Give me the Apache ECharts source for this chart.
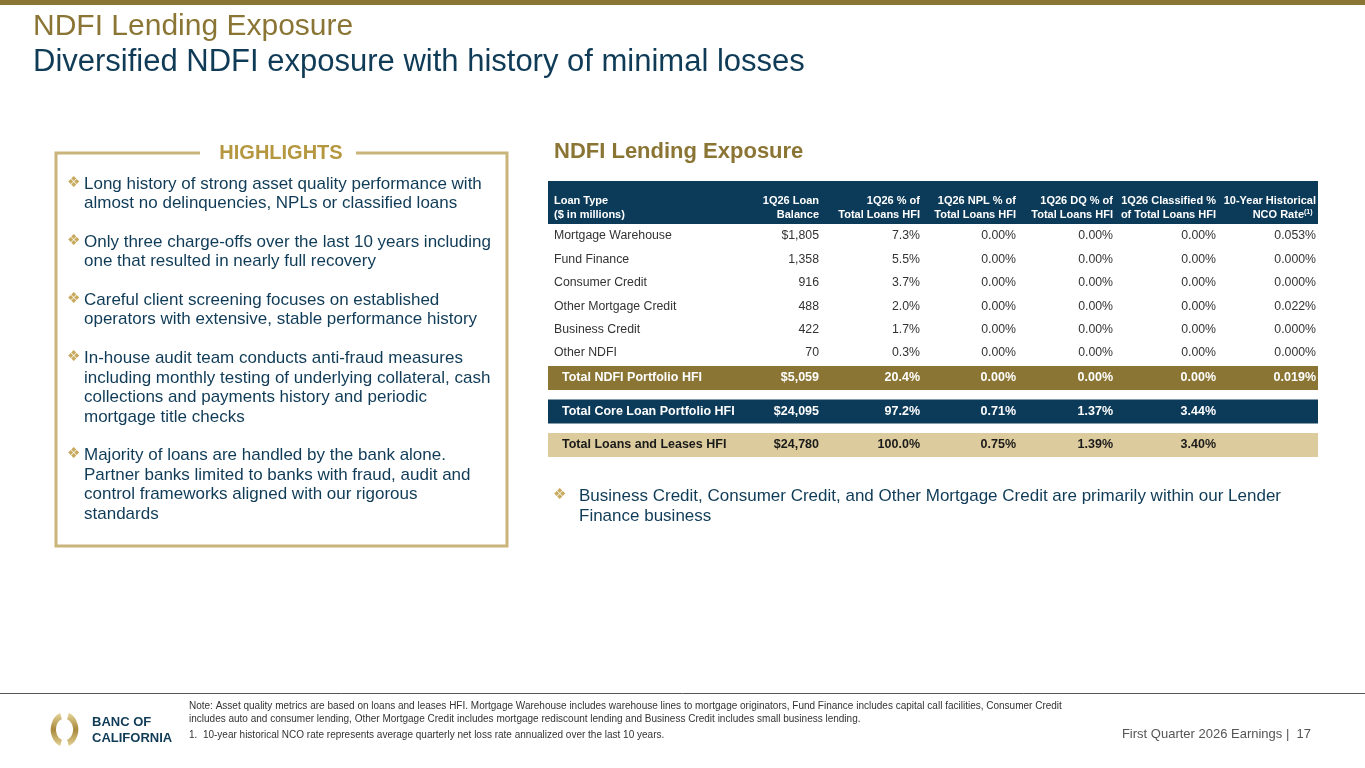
<!DOCTYPE html>
<html>
<head>
<meta charset="utf-8">
<script src="https://cdn.jsdelivr.net/npm/echarts@6/dist/echarts.min.js"></script>
<style>
  html, body { margin: 0; padding: 0; background: #fff; }
  #main { width: 1365px; height: 768px; }
</style>
</head>
<body>
<div id="main"></div>
<script>
// table data
var loanTypes = ['Mortgage Warehouse', 'Fund Finance', 'Consumer Credit', 'Other Mortgage Credit', 'Business Credit', 'Other NDFI'];
var loanBalance = [1805, 1358, 916, 488, 422, 70];
var pctOfTotal = [7.3, 5.5, 3.7, 2.0, 1.7, 0.3];
var nplPct = [0.00, 0.00, 0.00, 0.00, 0.00, 0.00];
var dqPct = [0.00, 0.00, 0.00, 0.00, 0.00, 0.00];
var classifiedPct = [0.00, 0.00, 0.00, 0.00, 0.00, 0.00];
var ncoRate = [0.053, 0.000, 0.000, 0.022, 0.000, 0.000];

var totalLabels = ['Total NDFI Portfolio HFI', 'Total Core Loan Portfolio HFI', 'Total Loans and Leases HFI'];
var totalBalance = [5059, 24095, 24780];
var totalPct = [20.4, 97.2, 100.0];
var totalNpl = [0.00, 0.71, 0.75];
var totalDq = [0.00, 1.37, 1.39];
var totalClassified = [0.00, 3.44, 3.40];
var totalNco = [0.019, null, null];

var headerTop = ['Loan Type', '1Q26 Loan', '1Q26 % of', '1Q26 NPL % of', '1Q26 DQ % of', '1Q26 Classified %', '10-Year Historical'];
var headerBottom = ['($ in millions)', 'Balance', 'Total Loans HFI', 'Total Loans HFI', 'Total Loans HFI', 'of Total Loans HFI', 'NCO Rate'];

var highlights = [
  ['Long history of strong asset quality performance with', 'almost no delinquencies, NPLs or classified loans'],
  ['Only three charge-offs over the last 10 years including', 'one that resulted in nearly full recovery'],
  ['Careful client screening focuses on established', 'operators with extensive, stable performance history'],
  ['In-house audit team conducts anti-fraud measures', 'including monthly testing of underlying collateral, cash', 'collections and payments history and periodic', 'mortgage title checks'],
  ['Majority of loans are handled by the bank alone.', 'Partner banks limited to banks with fraud, audit and', 'control frameworks aligned with our rigorous', 'standards']
];

var NAVY = '#0c3b5a';
var GOLD = '#8b7535';
var LIGHTGOLD = '#c9b47a';
var BULLET = '#c8aa5e';
var TAN = '#dccb9c';
var FONT = '"Liberation Sans", Arial, sans-serif';

var colRight = [819, 920, 1016, 1113, 1216, 1316];

function money(v, dollar) {
  var s = v.toLocaleString('en-US');
  return dollar ? '$' + s : s;
}
function pct(v, d) { return v == null ? '' : v.toFixed(d) + '%'; }

function txt(x, y, text, opt) {
  opt = opt || {};
  return {
    type: 'text', silent: true,
    style: {
      x: x, y: y, text: text,
      fill: opt.fill || '#333',
      font: (opt.weight || 'normal') + ' ' + (opt.size || 12) + 'px ' + (opt.family || FONT),
      align: opt.align || 'left',
      verticalAlign: opt.va || 'middle'
    }
  };
}

var g = [];

// top bar and titles
g.push({ type: 'rect', shape: { x: 0, y: 0, width: 1365, height: 5 }, style: { fill: GOLD } });
g.push(txt(33, 27, 'NDFI Lending Exposure', { size: 30, fill: GOLD }));
g.push(txt(33, 62, 'Diversified NDFI exposure with history of minimal losses', { size: 31, fill: '#0f3b57' }));

// highlights box
g.push({
  type: 'polyline', silent: true,
  shape: { points: [[200, 153], [56, 153], [56, 546], [507, 546], [507, 153], [356, 153]] },
  style: { stroke: LIGHTGOLD, lineWidth: 3, fill: null }
});
g.push(txt(281, 153, 'HIGHLIGHTS', { size: 20, weight: 'bold', fill: '#b5973f', align: 'center' }));

var hy = 184;
highlights.forEach(function (lines) {
  g.push(txt(67, hy - 1, '\u2756', { size: 15, fill: BULLET, family: '"DejaVu Sans"' }));
  lines.forEach(function (l, i) {
    g.push(txt(84, hy + i * 19.6, l, { size: 17, fill: '#0f3b57' }));
  });
  hy += (lines.length - 1) * 19.6 + 38.5;
});

// table title
g.push(txt(554, 152, 'NDFI Lending Exposure', { size: 22, weight: 'bold', fill: GOLD }));

// header band
g.push({ type: 'rect', shape: { x: 548, y: 181, width: 770, height: 43 }, style: { fill: NAVY } });
headerTop.forEach(function (h, i) {
  var x = i === 0 ? 554 : colRight[i - 1];
  var al = i === 0 ? 'left' : 'right';
  g.push(txt(x, 201, h, { size: 11, weight: 'bold', fill: '#fff', align: al }));
  var bx = i === 6 ? x - 12 : x;
  g.push(txt(bx, 215, headerBottom[i], { size: 11, weight: 'bold', fill: '#fff', align: al }));
});
g.push(txt(1304, 212, '(1)', { size: 7, weight: 'bold', fill: '#fff' }));

// data rows
loanTypes.forEach(function (name, r) {
  var y = 236 + r * 23.4;
  var vals = [money(loanBalance[r], r === 0), pct(pctOfTotal[r], 1), pct(nplPct[r], 2),
              pct(dqPct[r], 2), pct(classifiedPct[r], 2), pct(ncoRate[r], 3)];
  g.push(txt(554, y, name, { size: 12.3 }));
  vals.forEach(function (v, c) {
    g.push(txt(colRight[c], y, v, { size: 12.3, align: 'right' }));
  });
});

// total bands
var bandTop = [366, 399.5, 433];
var bandFill = [GOLD, NAVY, TAN];
var bandText = ['#fff', '#fff', '#1a1a1a'];
totalLabels.forEach(function (name, r) {
  g.push({ type: 'rect', shape: { x: 548, y: bandTop[r], width: 770, height: 24 }, style: { fill: bandFill[r] } });
  var y = bandTop[r] + 12;
  var vals = [money(totalBalance[r], true), pct(totalPct[r], 1), pct(totalNpl[r], 2),
              pct(totalDq[r], 2), pct(totalClassified[r], 2), pct(totalNco[r], 3)];
  g.push(txt(562, y, name, { size: 12.5, weight: 'bold', fill: bandText[r] }));
  vals.forEach(function (v, c) {
    g.push(txt(colRight[c], y, v, { size: 12.5, weight: 'bold', fill: bandText[r], align: 'right' }));
  });
});

// table note
g.push(txt(553, 495, '\u2756', { size: 15, fill: BULLET, family: '"DejaVu Sans"' }));
g.push(txt(579, 496, 'Business Credit, Consumer Credit, and Other Mortgage Credit are primarily within our Lender', { size: 17, fill: '#0f3b57' }));
g.push(txt(579, 516, 'Finance business', { size: 17, fill: '#0f3b57' }));

// footer
g.push({ type: 'line', shape: { x1: 0, y1: 693.5, x2: 1365, y2: 693.5 }, style: { stroke: '#555', lineWidth: 1 } });
var ringGrad = new echarts.graphic.LinearGradient(0, 0, 0, 1, [
  { offset: 0, color: '#e6d59a' }, { offset: 0.5, color: '#a8893e' }, { offset: 1, color: '#e3d193' }
]);
g.push({
  type: 'group', x: 64.5, y: 729.5, scaleX: 0.8, silent: true,
  children: [
    { type: 'arc', shape: { cx: 0, cy: 0, r: 14, startAngle: Math.PI * 0.6, endAngle: Math.PI * 1.4 }, style: { stroke: ringGrad, lineWidth: 6.5, fill: null } },
    { type: 'arc', shape: { cx: 0, cy: 0, r: 14, startAngle: -Math.PI * 0.4, endAngle: Math.PI * 0.4 }, style: { stroke: ringGrad, lineWidth: 6.5, fill: null } }
  ]
});
g.push(txt(92, 722, 'BANC OF', { size: 13, weight: 'bold', fill: '#0f3b57' }));
g.push(txt(92, 738, 'CALIFORNIA', { size: 13, weight: 'bold', fill: '#0f3b57' }));

g.push(txt(189, 706, 'Note: Asset quality metrics are based on loans and leases HFI. Mortgage Warehouse includes warehouse lines to mortgage originators, Fund Finance includes capital call facilities, Consumer Credit', { size: 10, fill: '#333' }));
g.push(txt(189, 719, 'includes auto and consumer lending, Other Mortgage Credit includes mortgage rediscount lending and Business Credit includes small business lending.', { size: 10, fill: '#333' }));
g.push(txt(189, 735, '1.  10-year historical NCO rate represents average quarterly net loss rate annualized over the last 10 years.', { size: 10, fill: '#333' }));
g.push(txt(1311, 734, 'First Quarter 2026 Earnings |  17', { size: 13, fill: '#555', align: 'right' }));

var chart = echarts.init(document.getElementById('main'), null, { renderer: 'canvas' });
chart.setOption({
  animation: false,
  backgroundColor: '#fff',
  graphic: { elements: g }
});
</script>
</body>
</html>
